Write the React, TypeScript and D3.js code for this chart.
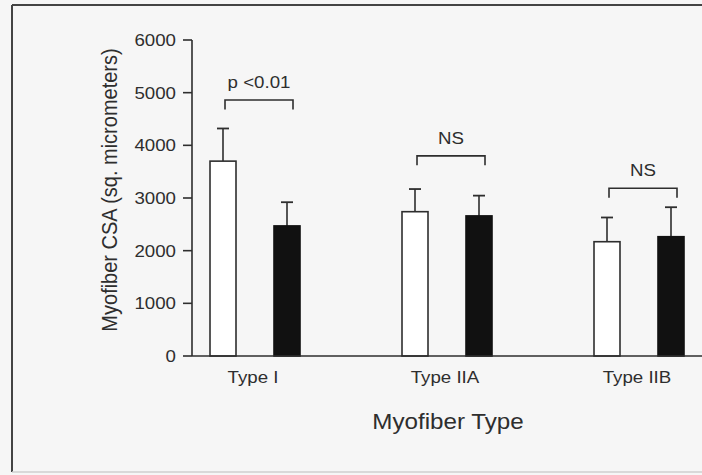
import React from "react";
import * as d3 from "d3";

const categories = ["Type I", "Type IIA", "Type IIB"];
const series = ["open", "filled"];
const openMeans = [3700, 2740, 2170];
const openSD = [620, 430, 460];
const filledMeans = [2470, 2660, 2265];
const filledSD = [450, 385, 560];
const sigLabels = ["p <0.01", "NS", "NS"];
const bracketLevels = [4860, 3800, 3185];
const yTicks = [0, 1000, 2000, 3000, 4000, 5000, 6000];

const W = 702;
const H = 475;
const FONT = "'Liberation Sans', Arial, Helvetica, sans-serif";
const INK = "#2e2e2e";
const SX = 1.1;

function SText({ x, y, size, anchor = "middle", children, rotate = false, dy }: any) {
  const tr = rotate
    ? `translate(${x},${y}) scale(${SX},1) rotate(-90)`
    : `translate(${x},${y}) scale(${SX},1)`;
  return (
    <text
      transform={tr}
      textAnchor={anchor}
      dy={dy}
      fontFamily={FONT}
      fontSize={size}
      fill={INK}
    >
      {children}
    </text>
  );
}

export default function App() {
  const y = d3.scaleLinear().domain([0, 6000]).range([356, 40]);
  const x0 = d3.scaleBand().domain(categories).range([159, 735]).padding(0);
  const x1 = d3.scalePoint().domain(series).range([-32, 32]);
  const barW = 26;
  const capW = 12;
  const axisX = 192;
  const center = (c: string) => (x0(c) as number) + x0.bandwidth() / 2;

  const bars = categories.flatMap((c, i) => [
    { c, s: "open", v: openMeans[i], sd: openSD[i] },
    { c, s: "filled", v: filledMeans[i], sd: filledSD[i] },
  ]);

  const bracketDrop = 180;

  return (
    <svg
      width={W}
      height={H}
      style={{ position: "absolute", left: 0, top: 0, background: "#f6f6f6" }}
    >
      <rect x={0} y={0} width={W} height={H} fill="#f6f6f6" />
      {/* frame */}
      <line x1={12} y1={5} x2={W} y2={5} stroke="#444" strokeWidth={2} />
      <line x1={12} y1={5} x2={12} y2={472} stroke="#444" strokeWidth={2} />
      <line x1={12} y1={472} x2={W} y2={472} stroke="#cfcfcf" strokeWidth={1.5} />

      {/* bars */}
      {bars.map((b, i) => {
        const cx = center(b.c) + (x1(b.s) as number);
        const top = y(b.v);
        const errTop = y(b.v + b.sd);
        return (
          <g key={i}>
            <line x1={cx} x2={cx} y1={top} y2={errTop} stroke={INK} strokeWidth={1.6} />
            <line x1={cx - capW / 2} x2={cx + capW / 2} y1={errTop} y2={errTop} stroke={INK} strokeWidth={1.8} />
            <rect
              x={cx - barW / 2}
              y={top}
              width={barW}
              height={y(0) - top}
              fill={b.s === "open" ? "#ffffff" : "#111111"}
              stroke={b.s === "open" ? INK : "#111"}
              strokeWidth={1.6}
            />
          </g>
        );
      })}

      {/* axes */}
      <line x1={axisX} x2={W} y1={y(0)} y2={y(0)} stroke={INK} strokeWidth={1.6} />
      <line x1={axisX} x2={axisX} y1={y(0)} y2={y(6000)} stroke={INK} strokeWidth={1.6} />
      {yTicks.map((t) => (
        <g key={t}>
          <line x1={axisX - 9} x2={axisX} y1={y(t)} y2={y(t)} stroke={INK} strokeWidth={1.6} />
          <SText x={176} y={y(t)} size={17} anchor="end" dy="0.36em">
            {t}
          </SText>
        </g>
      ))}

      {/* category labels */}
      {categories.map((c) => (
        <SText key={c} x={center(c) - 2} y={383} size={17}>
          {c}
        </SText>
      ))}

      {/* significance brackets */}
      {categories.map((c, i) => {
        const xl = center(c) + (x1("open") as number) + 2;
        const xr = center(c) + (x1("filled") as number) + 6;
        const by = y(bracketLevels[i]);
        const be = y(bracketLevels[i] - bracketDrop);
        return (
          <g key={"br" + c}>
            <path
              d={`M${xl},${be}V${by}H${xr}V${be}`}
              fill="none"
              stroke={INK}
              strokeWidth={1.6}
            />
            <SText x={(xl + xr) / 2} y={by - 12} size={17}>
              {sigLabels[i]}
            </SText>
          </g>
        );
      })}

      {/* axis titles */}
      <SText x={448} y={429} size={22}>
        Myofiber Type
      </SText>
      <SText x={117} y={190} size={20} rotate>
        Myofiber CSA (sq. micrometers)
      </SText>
    </svg>
  );
}
